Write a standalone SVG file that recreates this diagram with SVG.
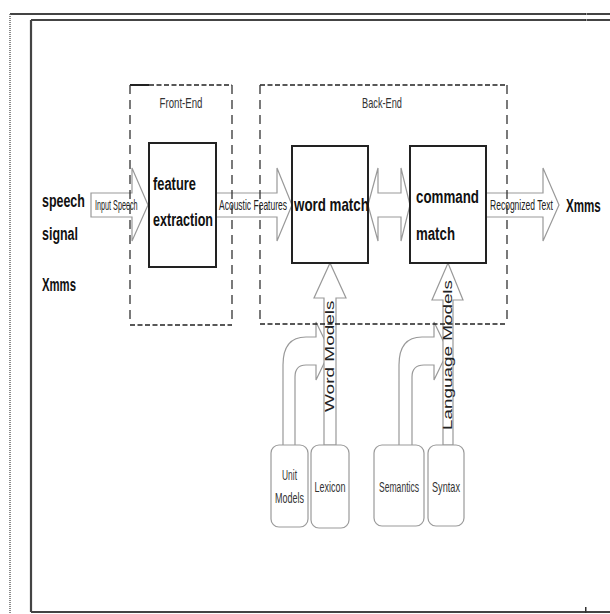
<svg xmlns="http://www.w3.org/2000/svg" width="610" height="614" viewBox="0 0 610 614">
<style>
.frame{stroke:#444;stroke-width:2.2;fill:none}
.node{fill:#fff;stroke:#222;stroke-width:2}
.src{fill:#fff;stroke:#9a9a9a;stroke-width:1.2}
.blk{fill:#fff;stroke:#999;stroke-width:1.2;stroke-linejoin:miter}
.dshort{stroke:#222;stroke-width:1.6;stroke-dasharray:5 2.5;fill:none}
.dlong{stroke:#333;stroke-width:1.3;stroke-dasharray:9 6;fill:none}
.big{font-family:"Liberation Sans",Arial,sans-serif;font-weight:bold;font-size:19px;fill:#111}
.lbl{font-family:"Liberation Sans",Arial,sans-serif;font-size:14px;fill:#222}
.sm{font-family:"Liberation Sans",Arial,sans-serif;font-size:14px;fill:#333;text-anchor:middle}
.rot{font-family:"Liberation Sans",Arial,sans-serif;font-size:12.5px;fill:#222}
</style>
<rect width="610" height="614" fill="#fff"/>
<g id="frame">
<line class="frame" x1="10" y1="14" x2="610" y2="14"/>
<line class="frame" x1="31" y1="20" x2="610" y2="20"/>
<line class="frame" x1="31" y1="20" x2="31" y2="612" stroke="#777"/>
<line class="frame" x1="31" y1="612" x2="610" y2="612"/>
<line x1="10" y1="14" x2="10" y2="614" stroke="#666" stroke-width="1.5" stroke-dasharray="1 1"/>
<rect x="585" y="12" width="2" height="10" fill="#fff"/>
<rect x="585" y="13" width="1.5" height="2" fill="#333"/>
<rect x="585" y="19" width="1.5" height="2" fill="#333"/>
<rect x="585" y="607" width="1.5" height="6" fill="#333"/>
</g>
<g id="inputs">
<text class="big" transform="translate(42,207) scale(0.656,1)">speech</text>
<text class="big" transform="translate(42,240) scale(0.656,1)">signal</text>
<text class="big" transform="translate(42,291) scale(0.596,1)">Xmms</text>
</g>
<g id="connectors">
<polygon class="blk" points="91,193 132,193 132,168 148,205 132,241 132,217 91,217"/>
<text class="lbl" transform="translate(95,210) scale(0.518,1)">Input Speech</text>
<polygon class="blk" points="216,193 277,193 277,168 292,205 277,241 277,217 216,217"/>
<text class="lbl" transform="translate(219,210) scale(0.607,1)">Acoustic Features</text>
<polygon class="blk" points="368,205 378,168 378,193 401,193 401,168 410,205 401,241 401,217 378,217 378,241"/>
<polygon class="blk" points="486,193 543,193 543,168 559,205 543,241 543,217 486,217"/>
<text class="lbl" transform="translate(490,210) scale(0.609,1)">Recognized Text</text>
<path class="blk" d="M283,445 L283,365 Q283,337 306,337 L316,337 L316,322 L330,351 L316,380 L316,365 L306,365 Q295,365 295,377 L295,445"/>
<polygon class="blk" points="324,445 324,298 314,298 330,263 346,298 336,298 336,445"/>
<text class="rot" transform="translate(334,412) rotate(-90) scale(1.52,1)">Word Models</text>
<path class="blk" d="M399,445 L399,365 Q399,337 422,337 L434,337 L434,322 L448,351 L434,380 L434,365 L424,365 Q412,365 412,377 L412,445"/>
<polygon class="blk" points="443,445 443,300 432,300 448,263 463,300 453,300 453,445"/>
<text class="rot" transform="translate(452,430) rotate(-90) scale(1.51,1)">Language Models</text>
</g>
<g id="feature-extraction">
<rect class="node" x="149" y="143" width="67" height="124"/>
<text class="big" transform="translate(153,190) scale(0.679,1)">feature</text>
<text class="big" transform="translate(153,226) scale(0.661,1)">extraction</text>
</g>
<g id="word-match">
<rect class="node" x="292" y="146" width="76" height="117"/>
<text class="big" transform="translate(294,211) scale(0.703,1)">word match</text>
</g>
<g id="command-match">
<rect class="node" x="410" y="146" width="76" height="117"/>
<text class="big" transform="translate(416,203) scale(0.702,1)">command</text>
<text class="big" transform="translate(416,240) scale(0.697,1)">match</text>
</g>
<g id="output">
<text class="big" font-size="18" transform="translate(566,212) scale(0.611,1)">Xmms</text>
</g>
<g id="unit-models">
<rect class="src" x="271" y="445" width="37" height="82" rx="8"/>
<text class="sm" transform="translate(289.5,480) scale(0.6,1)">Unit</text>
<text class="sm" transform="translate(289.5,503) scale(0.643,1)">Models</text>
</g>
<g id="lexicon">
<rect class="src" x="311" y="445" width="38" height="83" rx="8"/>
<text class="sm" transform="translate(330,492) scale(0.643,1)">Lexicon</text>
</g>
<g id="semantics">
<rect class="src" x="374" y="445" width="50" height="81" rx="8"/>
<text class="sm" transform="translate(399,492) scale(0.612,1)">Semantics</text>
</g>
<g id="syntax">
<rect class="src" x="428" y="445" width="36" height="81" rx="8"/>
<text class="sm" transform="translate(446,492) scale(0.654,1)">Syntax</text>
</g>
<g id="front-end">
<line class="dshort" x1="149" y1="85" x2="232" y2="85"/>
<line x1="130" y1="85" x2="149" y2="85" stroke="#222" stroke-width="2"/>
<line class="dlong" x1="130" y1="85" x2="130" y2="325"/>
<line class="dlong" x1="232" y1="85" x2="232" y2="325"/>
<line class="dshort" x1="130" y1="325" x2="232" y2="325"/>
<text class="sm" transform="translate(181,108) scale(0.691,1)">Front-End</text>
</g>
<g id="back-end">
<line class="dshort" x1="260" y1="85" x2="507" y2="85"/>
<line class="dlong" x1="260" y1="85" x2="260" y2="324"/>
<line class="dlong" x1="507" y1="85" x2="507" y2="324"/>
<line class="dshort" x1="260" y1="324" x2="507" y2="324"/>
<text class="sm" transform="translate(382,108) scale(0.659,1)">Back-End</text>
</g>
</svg>
